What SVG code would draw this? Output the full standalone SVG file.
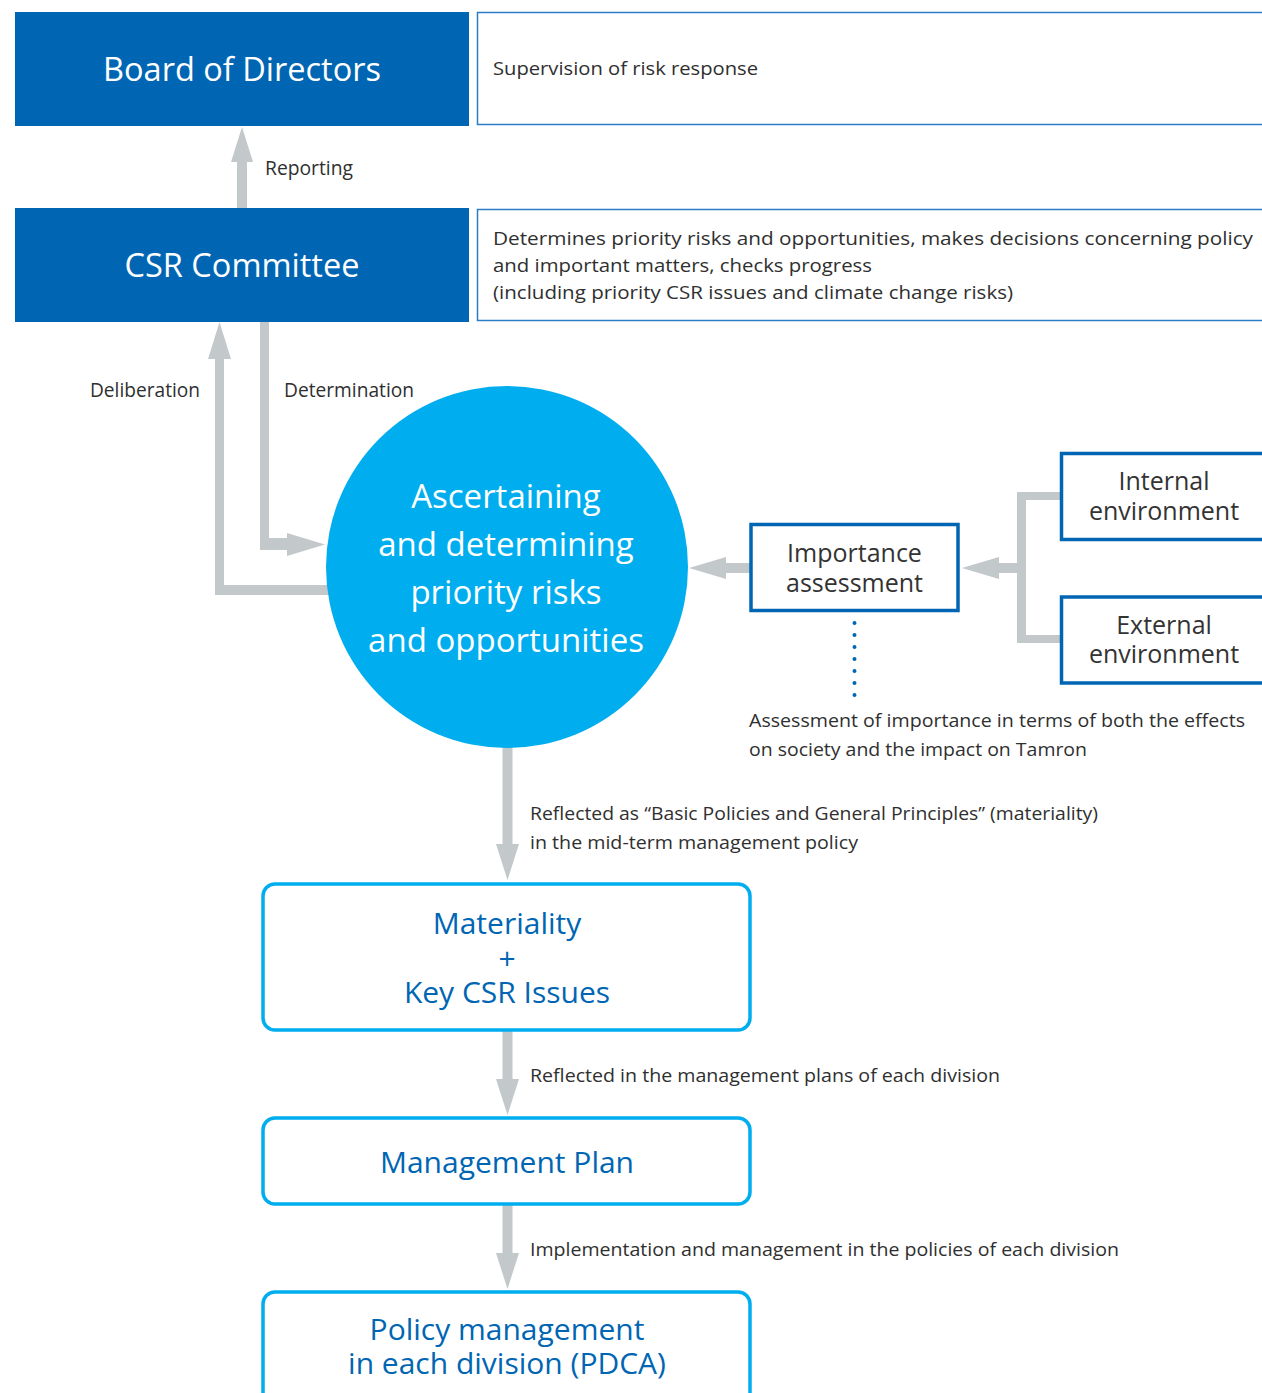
<svg xmlns="http://www.w3.org/2000/svg" width="1262" height="1393" viewBox="0 0 1262 1393">
<style>
.dark{fill:#0066b3}
.wt{fill:#ffffff;font-family:"Open Sans","Noto Sans",sans-serif}
.desc{fill:none;stroke:#2b7cc6;stroke-width:1.5}
.body{fill:#2f2f2f;font-family:"Open Sans","Noto Sans",sans-serif;font-size:19px}
.lbl{fill:#2f2f2f;font-family:"Open Sans","Noto Sans",sans-serif;font-size:20px}
.env{fill:#fff;stroke:#0066b3;stroke-width:3.5}
.envt{fill:#333;font-family:"Open Sans","Noto Sans",sans-serif;font-size:25px;text-anchor:middle}
.rbox{fill:#fff;stroke:#00aeef;stroke-width:3.5}
.rt{fill:#0066b3;font-family:"Open Sans","Noto Sans",sans-serif;font-size:30px;text-anchor:middle}
.arr{fill:#c3c8cb}
</style>
<rect width="1262" height="1393" fill="#ffffff"/>
<g id="connectors">
<polygon class="arr" points="237,208 237,162 231,162 242,127 253,162 247,162 247,208"/>
<polygon class="arr" points="330,595 215,595 215,359 208,359 219.5,322 231,359 224,359 224,585 330,585"/>
<polygon class="arr" points="260,322 260,550 287,550 287,556 325,544.5 287,533 287,538 269,538 269,322"/>
<polygon class="arr" points="752,563 726,563 726,557 689,568 726,579 726,573 752,573"/>
<polygon class="arr" points="1062,492 1017,492 1017,563 999,563 999,557 962,568 999,579 999,573 1017,573 1017,643 1062,643 1062,635 1026,635 1026,500 1062,500"/>
<polygon class="arr" points="502.5,740 502.5,844 496,844 507.5,880 519,844 512.5,844 512.5,740"/>
<polygon class="arr" points="502.5,1031 502.5,1079 496,1079 507.5,1115 519,1079 512.5,1079 512.5,1031"/>
<polygon class="arr" points="502.5,1205 502.5,1253 496,1253 507.5,1289 519,1253 512.5,1253 512.5,1205"/>
<g fill="#0066b3">
<circle cx="854.5" cy="623" r="2"/><circle cx="854.5" cy="635" r="2"/><circle cx="854.5" cy="647" r="2"/><circle cx="854.5" cy="659" r="2"/><circle cx="854.5" cy="671" r="2"/><circle cx="854.5" cy="683" r="2"/><circle cx="854.5" cy="695" r="2"/>
</g>
<text class="lbl" x="265" y="175" textLength="88" lengthAdjust="spacingAndGlyphs">Reporting</text>
<text class="lbl" x="90" y="397" textLength="110" lengthAdjust="spacingAndGlyphs">Deliberation</text>
<text class="lbl" x="284" y="397" textLength="130" lengthAdjust="spacingAndGlyphs">Determination</text>
<text class="body" x="749" y="727" textLength="496" lengthAdjust="spacingAndGlyphs">Assessment of importance in terms of both the effects</text>
<text class="body" x="749" y="756" textLength="338" lengthAdjust="spacingAndGlyphs">on society and the impact on Tamron</text>
<text class="body" x="530" y="820" textLength="568" lengthAdjust="spacingAndGlyphs">Reflected as “Basic Policies and General Principles” (materiality)</text>
<text class="body" x="530" y="849" textLength="328" lengthAdjust="spacingAndGlyphs">in the mid-term management policy</text>
<text class="body" x="530" y="1082" textLength="470" lengthAdjust="spacingAndGlyphs">Reflected in the management plans of each division</text>
<text class="body" x="530" y="1256" textLength="589" lengthAdjust="spacingAndGlyphs">Implementation and management in the policies of each division</text>
</g>
<g id="board">
<rect class="dark" x="15" y="12" width="454" height="114"/>
<text class="wt" x="242" y="81" font-size="32.5" text-anchor="middle">Board of Directors</text>
</g>
<g id="board-desc">
<rect class="desc" x="477.5" y="12.5" width="800" height="112"/>
<text class="body" x="493" y="75" textLength="265" lengthAdjust="spacingAndGlyphs">Supervision of risk response</text>
</g>
<g id="csr">
<rect class="dark" x="15" y="208" width="454" height="114"/>
<text class="wt" x="242" y="277" font-size="32.5" text-anchor="middle">CSR Committee</text>
</g>
<g id="csr-desc">
<rect class="desc" x="477.5" y="209.5" width="800" height="111"/>
<text class="body" x="493" y="245" textLength="760" lengthAdjust="spacingAndGlyphs">Determines priority risks and opportunities, makes decisions concerning policy</text>
<text class="body" x="493" y="272" textLength="379" lengthAdjust="spacingAndGlyphs">and important matters, checks progress</text>
<text class="body" x="493" y="299" textLength="520" lengthAdjust="spacingAndGlyphs">(including priority CSR issues and climate change risks)</text>
</g>
<g id="core">
<circle cx="507" cy="567" r="181" fill="#00aeef"/>
<text class="wt" font-size="33" text-anchor="middle"><tspan x="506" y="508">Ascertaining</tspan><tspan x="506" y="556">and determining</tspan><tspan x="506" y="604">priority risks</tspan><tspan x="506" y="652">and opportunities</tspan></text>
</g>
<g id="importance">
<rect class="env" x="751" y="524.5" width="207" height="86"/>
<text class="envt"><tspan x="854.5" y="562">Importance</tspan><tspan x="854.5" y="592">assessment</tspan></text>
</g>
<g id="internal">
<rect class="env" x="1061.5" y="453.5" width="220" height="86"/>
<text class="envt"><tspan x="1164" y="490">Internal</tspan><tspan x="1164" y="520">environment</tspan></text>
</g>
<g id="external">
<rect class="env" x="1061.5" y="597" width="220" height="86"/>
<text class="envt"><tspan x="1164" y="634">External</tspan><tspan x="1164" y="663">environment</tspan></text>
</g>
<g id="materiality">
<rect class="rbox" x="263" y="884" width="487" height="146" rx="12"/>
<text class="rt"><tspan x="507" y="934">Materiality</tspan><tspan x="507" y="969">+</tspan><tspan x="507" y="1003">Key CSR Issues</tspan></text>
</g>
<g id="management-plan">
<rect class="rbox" x="263" y="1118" width="487" height="86" rx="12"/>
<text class="rt" x="507" y="1173">Management Plan</text>
</g>
<g id="policy">
<rect class="rbox" x="263" y="1292" width="487" height="130" rx="12"/>
<text class="rt"><tspan x="507" y="1340">Policy management</tspan><tspan x="507" y="1374">in each division (PDCA)</tspan></text>
</g>
</svg>
